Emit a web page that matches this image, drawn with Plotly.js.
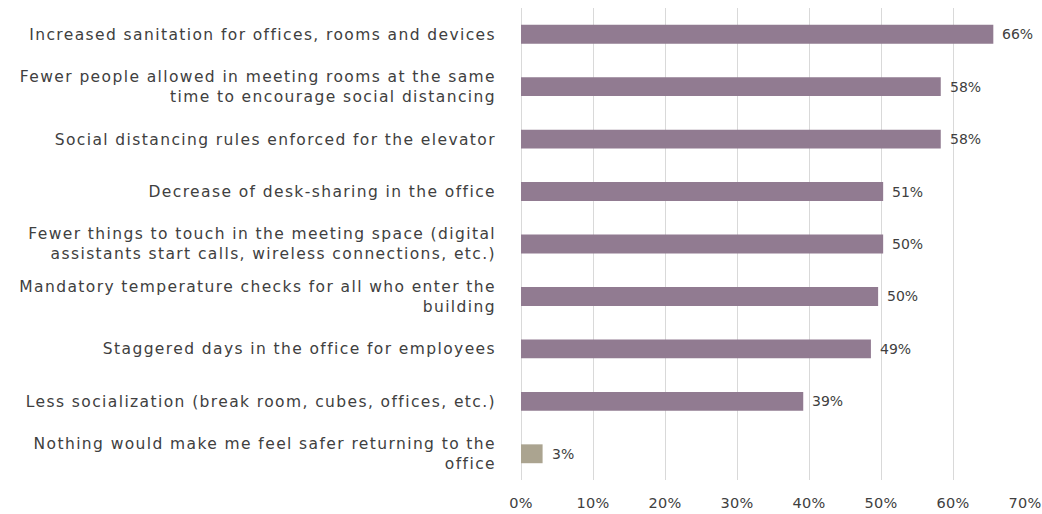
<!DOCTYPE html>
<html>
<head>
<meta charset="utf-8">
<script src="https://cdn.plot.ly/plotly-3.0.1.min.js"></script>
<style>
html,body{margin:0;padding:0;background:#fff;}
#chart{width:1042px;height:514px;}
#chart .ytick text{letter-spacing:1.4px;}
#chart .xtick text{letter-spacing:0.3px;}
</style>
</head>
<body>
<div id="chart"></div>
<script>
const categories = [
  "Increased sanitation for offices, rooms and devices",
  "Fewer people allowed in meeting rooms at the same<br>time to encourage social distancing",
  "Social distancing rules enforced for the elevator",
  "Decrease of desk-sharing in the office",
  "Fewer things to touch in the meeting space (digital<br>assistants start calls, wireless connections, etc.)",
  "Mandatory temperature checks for all who enter the<br>building",
  "Staggered days in the office for employees",
  "Less socialization (break room, cubes, offices, etc.)",
  "Nothing would make me feel safer returning to the<br>office"
];
const values = [65.6, 58.3, 58.3, 50.3, 50.3, 49.6, 48.6, 39.2, 3.0];
const valueLabels = ["66%", "58%", "58%", "51%", "50%", "50%", "49%", "39%", "3%"];
const barColors = ["#917b91", "#917b91", "#917b91", "#917b91", "#917b91", "#917b91", "#917b91", "#917b91", "#aba490"];
const xTickVals = [0, 10, 20, 30, 40, 50, 60, 70];
const xTickText = ["0%", "10%", "20%", "30%", "40%", "50%", "60%", "70%"];

const FONT = "DejaVu Sans";
const TEXT = "#404040";

const trace = {
  type: "bar",
  orientation: "h",
  x: values,
  y: categories,
  marker: {color: barColors},
  hoverinfo: "none"
};

const annotations = values.map((v, i) => ({
  x: v, y: categories[i], xref: "x", yref: "y",
  text: valueLabels[i], showarrow: false,
  xanchor: "left", yanchor: "middle", xshift: 7,
  font: {family: FONT, size: 14, color: TEXT}
}));

const layout = {
  width: 1042, height: 514,
  margin: {l: 521, r: 17, t: 8, b: 34},
  paper_bgcolor: "#ffffff", plot_bgcolor: "#ffffff",
  showlegend: false,
  bargap: 0.64,
  font: {family: FONT, size: 14, color: TEXT},
  xaxis: {
    range: [0, 70],
    tickvals: xTickVals, ticktext: xTickText,
    showgrid: true, gridcolor: "#d9d9d9", gridwidth: 1,
    zeroline: true, zerolinecolor: "#d9d9d9", zerolinewidth: 1,
    showline: false,
    ticks: "", ticklabelstandoff: 12,
    tickfont: {family: FONT, size: 14.5, color: TEXT},
    fixedrange: true
  },
  yaxis: {
    autorange: "reversed",
    type: "category",
    showgrid: false, zeroline: false, showline: false,
    ticks: "", ticklabelstandoff: 24,
    tickfont: {family: FONT, size: 15.5, color: TEXT},
    fixedrange: true
  },
  annotations: annotations
};

Plotly.newPlot("chart", [trace], layout, {displayModeBar: false, staticPlot: true});
</script>
</body>
</html>
